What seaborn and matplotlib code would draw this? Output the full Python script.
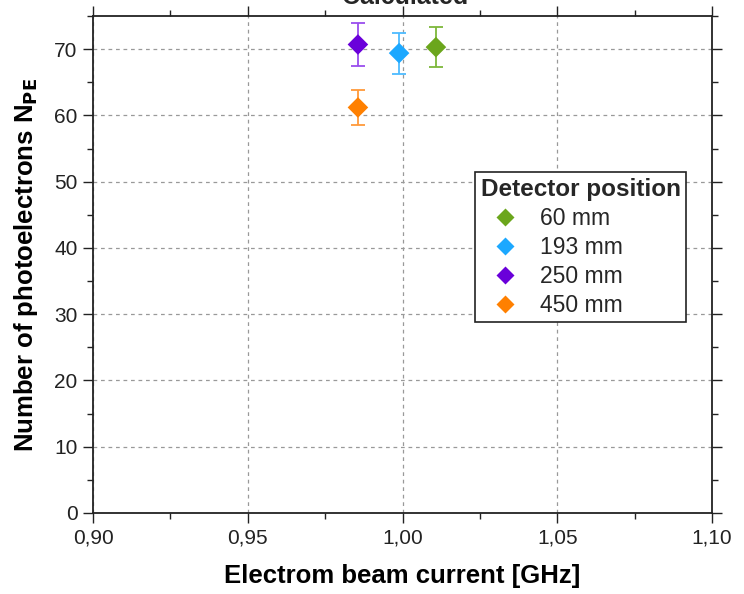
import matplotlib
matplotlib.use("Agg")
import matplotlib.pyplot as plt
import seaborn as sns
import pandas as pd
from matplotlib.ticker import MultipleLocator, FuncFormatter

# ---- data ----
positions = ["60 mm", "193 mm", "250 mm", "450 mm"]
beam_current = [1.0108, 0.9989, 0.9856, 0.9856]
n_pe = [70.3, 69.4, 70.7, 61.2]
n_pe_err = [3.0, 3.1, 3.2, 2.6]
colors = ["#6BA61C", "#1CA8FF", "#6A00DA", "#FF8000"]
err_colors = ["#7DB83A", "#4DBBFF", "#9A4DEE", "#FF9A3A"]

df = pd.DataFrame({"Detector position": positions,
                   "current": beam_current,
                   "npe": n_pe,
                   "err": n_pe_err})

sns.set_style("ticks")
plt.rcParams["font.family"] = ["Liberation Sans", "DejaVu Sans"]

fig = plt.figure(figsize=(7.44, 5.94), dpi=100)
ax = fig.add_axes([93/744, 1-513/594, 619/744, 497/594])

for i in range(len(positions)):
    ax.errorbar(beam_current[i], n_pe[i], yerr=n_pe_err[i], fmt="none",
                ecolor=err_colors[i], elinewidth=1.3, capsize=5, capthick=1.3,
                zorder=2)

sns.scatterplot(data=df, x="current", y="npe", hue="Detector position",
                palette=colors, marker="D", s=110, edgecolor="none",
                ax=ax, zorder=3)

ax.set_xlim(0.90, 1.10)
ax.set_ylim(0, 75)
ax.xaxis.set_major_locator(MultipleLocator(0.05))
ax.xaxis.set_minor_locator(MultipleLocator(0.025))
ax.yaxis.set_major_locator(MultipleLocator(10))
ax.yaxis.set_minor_locator(MultipleLocator(5))
ax.xaxis.set_major_formatter(FuncFormatter(lambda v, p: f"{v:.2f}".replace(".", ",")))
ax.yaxis.set_major_formatter(FuncFormatter(lambda v, p: f"{v:.0f}"))

ax.tick_params(which="both", top=True, right=True, direction="out",
               color="#222222", width=1.0)
ax.tick_params(which="major", length=7, labelsize=15, labelcolor="#222222", pad=4)
ax.tick_params(which="minor", length=4)
for sp in ax.spines.values():
    sp.set_visible(True)
    sp.set_color("#222222")
    sp.set_linewidth(1.3)

ax.grid(True, which="major", color="#999999", linestyle=(0, (3, 3)), linewidth=0.9)
ax.set_axisbelow(True)

ax.set_xlabel("Electrom beam current [GHz]", fontsize=18.5, fontweight="bold",
              labelpad=12, color="black")
ax.set_ylabel(r"Number of photoelectrons N$_{\mathbf{PE}}$", fontsize=18.5,
              fontweight="bold", labelpad=10, color="black")

fig.text(405/744, 1-4/594, "Calculated", ha="center", va="baseline",
         fontsize=18, fontweight="bold")

handles, labels = ax.get_legend_handles_labels()
leg = ax.legend(handles, labels, title="Detector position", loc="upper left",
                bbox_to_anchor=((475-93)/619, (513-172)/497), borderaxespad=0,
                fancybox=False, edgecolor="#222222", framealpha=1,
                fontsize=16.5, title_fontproperties={"weight": "bold", "size": 17.5},
                handletextpad=0.5, handlelength=2.1, labelspacing=0.26,
                borderpad=0.25, markerscale=0.85, alignment="left")
leg.get_frame().set_linewidth(1.2)

fig.savefig("out.png", dpi=100)
